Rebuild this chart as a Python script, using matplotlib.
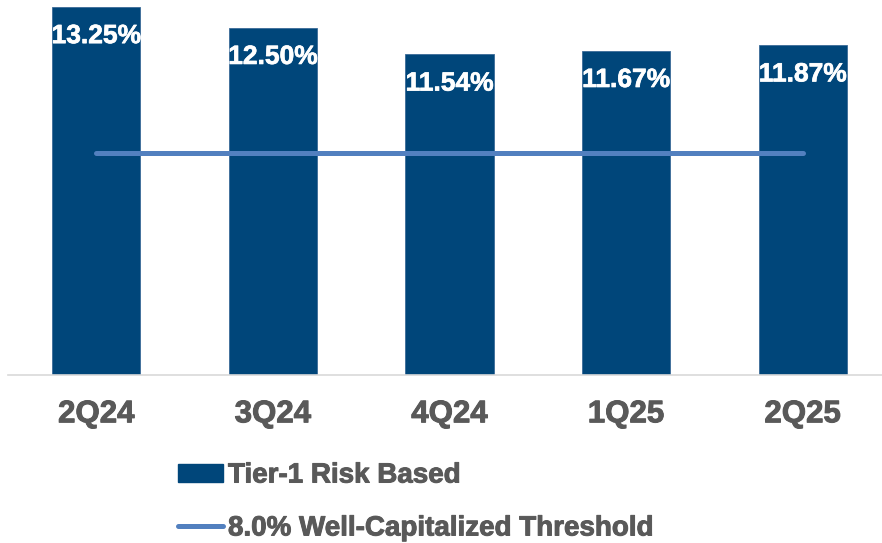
import matplotlib
matplotlib.use("Agg")
import matplotlib.pyplot as plt
from matplotlib.patches import Patch
from matplotlib.lines import Line2D
import matplotlib.patheffects as pe

categories = ["2Q24", "3Q24", "4Q24", "1Q25", "2Q25"]
tier1 = [13.25, 12.50, 11.54, 11.67, 11.87]
threshold = [8.0, 8.0, 8.0, 8.0, 8.0]
bar_label = "Tier-1 Risk Based"
line_label = "8.0% Well-Capitalized Threshold"

BAR = "#00467a"
LINE = "#5280bf"
GREY = "#595959"

plt.rcParams["font.family"] = ["Liberation Sans", "DejaVu Sans"]
plt.rcParams["font.weight"] = "bold"

fig = plt.figure(figsize=(8.82, 5.43), dpi=100)
ax = fig.add_axes([8/882, 1 - 375/543, 1 - 8/882, 375/543])

x = list(range(len(categories)))
bars = ax.bar(x, tier1, width=0.5, color=BAR, edgecolor="#3a6a98", linewidth=0.6, zorder=2)
ax.plot(x, threshold, color=LINE, linewidth=3.6, solid_capstyle="round", zorder=3)

thick_w = [pe.withStroke(linewidth=0.5, foreground="white")]
thick_g = [pe.withStroke(linewidth=0.7, foreground=GREY)]

for xi, v in zip(x, tier1):
    ax.annotate(f"{v:.2f}%", xy=(xi, v), xytext=(0, -21), textcoords="offset points",
                ha="center", va="center", color="white", fontsize=19, fontweight="bold",
                path_effects=thick_w)

ax.set_xlim(-0.5, 4.449)
ax.set_ylim(0, 13.5)
ax.set_xticks(x)
ax.set_xticklabels(categories, fontsize=22.5, fontweight="bold", color=GREY)
for t in ax.get_xticklabels():
    t.set_path_effects(thick_g)
ax.tick_params(axis="x", length=0, pad=17.5)
ax.set_yticks([])
for s in ["top", "right", "left"]:
    ax.spines[s].set_visible(False)
ax.spines["bottom"].set_color("#d9d9d9")
ax.spines["bottom"].set_linewidth(1.2)

handles = [Patch(facecolor=BAR, edgecolor=BAR),
           Line2D([0], [0], color=LINE, linewidth=3.6, solid_capstyle="round")]
leg = fig.legend(handles, [bar_label, line_label], loc="center left",
                 bbox_to_anchor=(178/882, 1 - 502/543), frameon=False,
                 fontsize=20, handlelength=1.62, handletextpad=0.18,
                 labelspacing=0.97, borderpad=0, borderaxespad=0, handleheight=0.62)
for t in leg.get_texts():
    t.set_color(GREY)
    t.set_fontweight("bold")
    t.set_path_effects(thick_g)

fig.savefig("out.png", dpi=100)
